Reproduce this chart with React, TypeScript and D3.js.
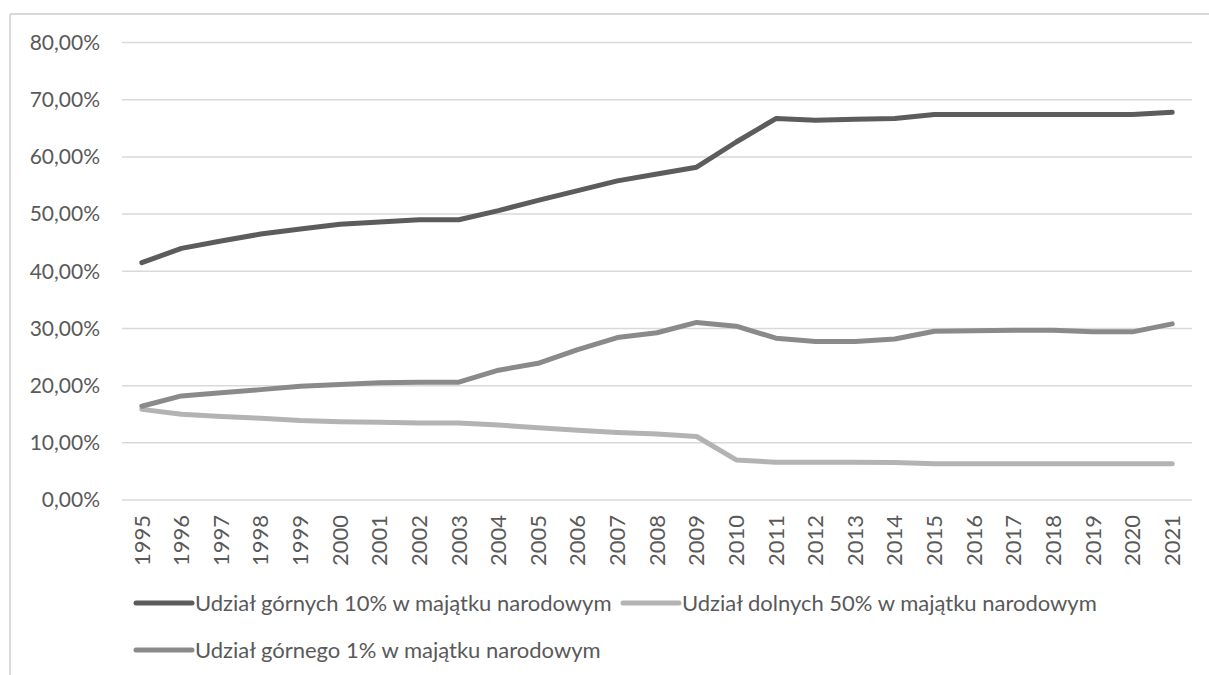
import React from "react";
import * as d3 from "d3";

const years = ["1995","1996","1997","1998","1999","2000","2001","2002","2003","2004","2005","2006","2007","2008","2009","2010","2011","2012","2013","2014","2015","2016","2017","2018","2019","2020","2021"];

const top10 = [41.5,44.0,45.3,46.5,47.4,48.2,48.6,49.0,49.0,50.6,52.4,54.1,55.8,57.0,58.2,62.6,66.7,66.4,66.6,66.7,67.4,67.4,67.4,67.4,67.4,67.4,67.8];
const bottom50 = [15.85,15.0,14.6,14.3,13.9,13.7,13.6,13.45,13.45,13.1,12.65,12.2,11.8,11.55,11.1,7.0,6.6,6.6,6.6,6.55,6.35,6.35,6.35,6.35,6.35,6.35,6.35];
const top1 = [16.4,18.2,18.75,19.3,19.9,20.2,20.5,20.6,20.6,22.7,23.9,26.3,28.4,29.25,31.05,30.4,28.3,27.7,27.7,28.15,29.5,29.6,29.7,29.7,29.4,29.4,30.8];

const yTicks = [0,10,20,30,40,50,60,70,80];

const seriesNames = [
  "Udział górnych 10% w majątku narodowym",
  "Udział dolnych 50% w majątku narodowym",
  "Udział górnego 1% w majątku narodowym",
];

const colors = ["#5c5c5c", "#b3b3b3", "#8a8a8a"];
const FONT = "Lato, 'Open Sans', sans-serif";
const TEXT = "#595959";

export default function App() {
  const W = 1209, H = 675;
  const x = d3.scaleBand<string>().domain(years).range([122, 1192]);
  const y = d3.scaleLinear().domain([0, 80]).range([500, 42.5]);
  const cx = (i: number) => (x(years[i]) as number) + x.bandwidth() / 2;
  const line = d3.line<number>().x((_, i) => cx(i)).y((v) => y(v));
  const data = [top10, bottom50, top1];

  const fmt = (v: number) => v.toFixed(2).replace(".", ",") + "%";

  const legend = [
    { lx: 136, ly: 603 },
    { lx: 623, ly: 603 },
    { lx: 136, ly: 650 },
  ];

  return (
    <svg width={W} height={H} style={{ position: "absolute", left: 0, top: 0, display: "block", background: "#fff" }}>
      <line x1={10} y1={14} x2={W} y2={14} stroke="#d9d9d9" strokeWidth={2} />
      <line x1={10} y1={14} x2={10} y2={H} stroke="#d9d9d9" strokeWidth={2} />
      {yTicks.map((t) => (
        <g key={t}>
          <line x1={122} x2={1192} y1={y(t)} y2={y(t)} stroke="#d9d9d9" strokeWidth={1.5} />
          <text x={100} y={y(t)} dy="0.35em" textAnchor="end" fontFamily={FONT} fontSize={21} fill={TEXT}>{fmt(t)}</text>
        </g>
      ))}
      {years.map((yr, i) => (
        <text key={yr} transform={`translate(${cx(i)},515) rotate(-90)`} textAnchor="end" dy="0.35em" fontFamily={FONT} fontSize={22} fill={TEXT}>{yr}</text>
      ))}
      {data.map((d, k) => (
        <path key={k} d={line(d) as string} fill="none" stroke={colors[k]} strokeWidth={5} strokeLinecap="round" strokeLinejoin="round" />
      ))}
      {legend.map((p, k) => (
        <g key={k}>
          <line x1={p.lx} x2={p.lx + 56} y1={p.ly} y2={p.ly} stroke={colors[k]} strokeWidth={5} strokeLinecap="round" />
          <text x={p.lx + 59} y={p.ly} dy="0.35em" fontFamily={FONT} fontSize={22} fill={TEXT}>{seriesNames[k]}</text>
        </g>
      ))}
    </svg>
  );
}
